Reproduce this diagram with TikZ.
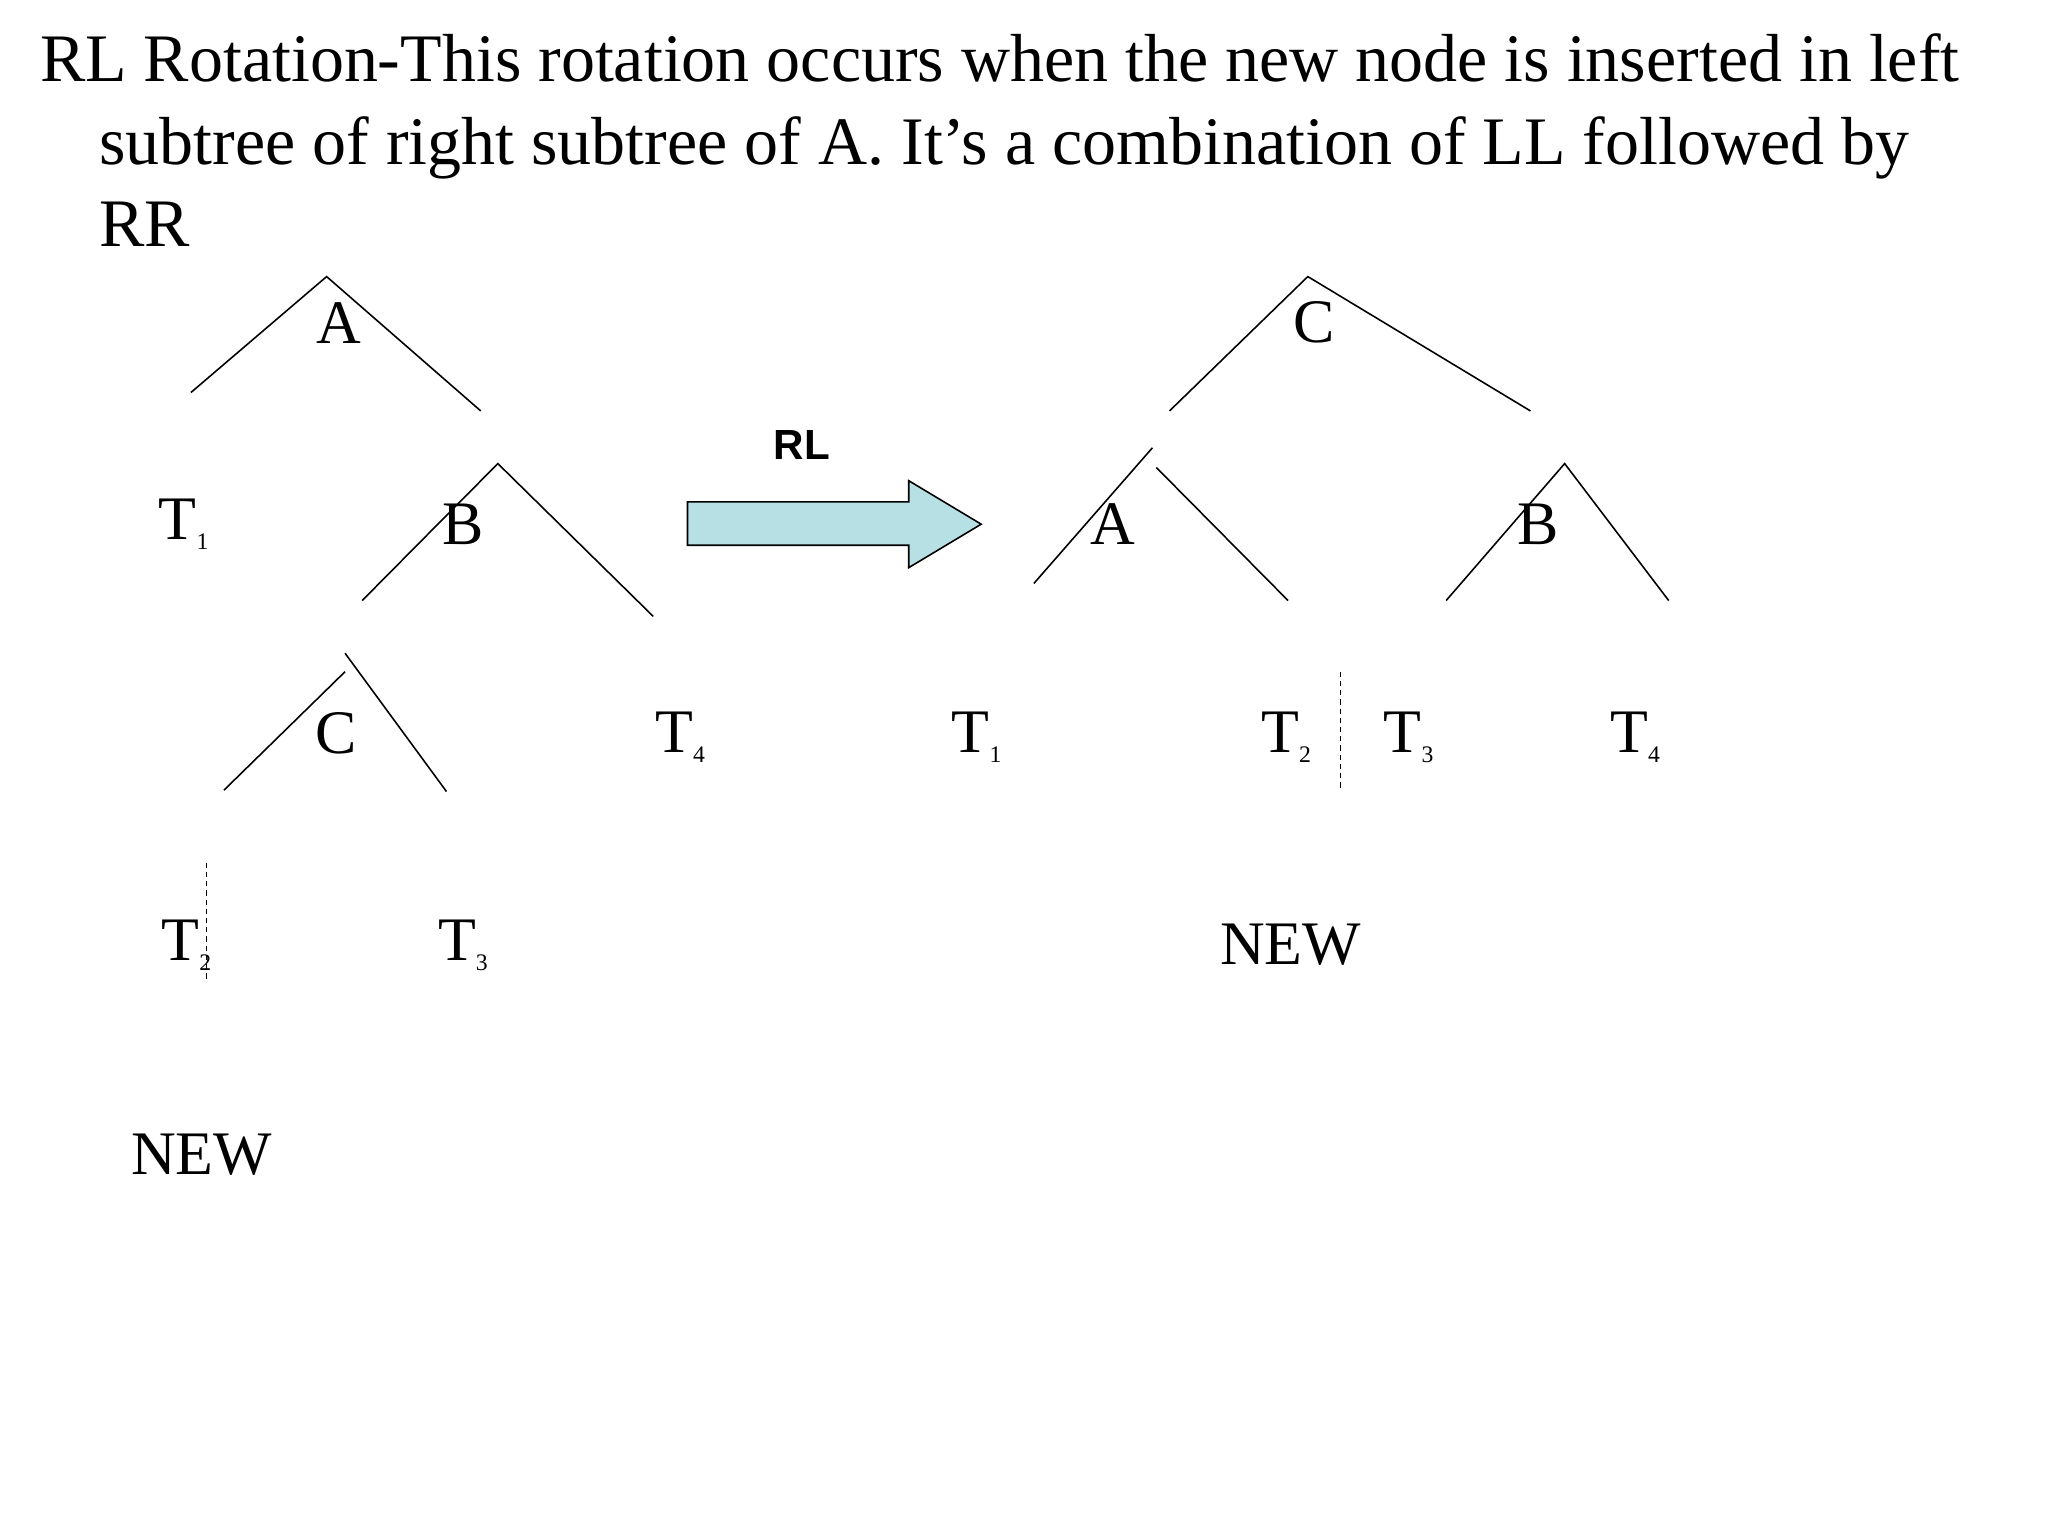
\documentclass[tikz,border=0pt]{standalone}
\usepackage{fontspec}
\setmainfont{Liberation Serif}
\newfontfamily\arial{Liberation Sans}
\begin{document}
\begin{tikzpicture}[x=0.5pt,y=-0.5pt,
  lbl/.style={inner sep=0pt,font=\fontsize{23.5}{26}\selectfont},
  ttl/.style={inner sep=0pt,anchor=base west,font=\fontsize{25.8}{30}\selectfont},
  edge/.style={draw,line width=0.6pt},
  dsh/.style={draw,dashed,line width=0.5pt,dash pattern=on 2pt off 1.5pt}]
\useasboundingbox (0,0) rectangle (1555,1166);
\node[ttl] (t1) at (30,62) {RL Rotation-This rotation occurs when the new node is inserted in left};
\node[ttl] (t2) at (75,125) {subtree of right subtree of A. It’s a combination of LL followed by};
\node[ttl] (t3) at (75,187) {RR};
% left tree
\coordinate (a1) at (248,210); \coordinate (a1l) at (145,298); \coordinate (a1r) at (365,312);
\draw[edge] (a1l) -- (a1) -- (a1r);
\node[lbl] (A1) at (257,245) {A};
\node[lbl] (T11) at (140,398) {T\textsubscript{\fontsize{9}{9}\selectfont 1}};
\coordinate (b1) at (378,352); \coordinate (b1l) at (275,456); \coordinate (b1r) at (496,468);
\draw[edge] (b1l) -- (b1) -- (b1r);
\node[lbl] (B1) at (352,398) {B};
\coordinate (c1) at (262,496); \coordinate (c1a) at (262,510); \coordinate (c1l) at (170,600); \coordinate (c1r) at (339,601);
\draw[edge] (c1l) -- (c1a); \draw[edge] (c1) -- (c1r);
\node[lbl] (C1) at (255,557) {C};
\node[lbl] (T41) at (517,560) {T\textsubscript{\fontsize{9}{9}\selectfont 4}};
\node[lbl] (T21) at (142,718) {T\textsubscript{\fontsize{9}{9}\selectfont 2}};
\coordinate (d1a) at (157,655); \coordinate (d1b) at (157,745);
\draw[dsh] (d1a) -- (d1b);
\node[lbl] (T31) at (352,718) {T\textsubscript{\fontsize{9}{9}\selectfont 3}};
\node[lbl] (N1) at (153,877) {NEW};
% arrow
\draw[fill={rgb,255:red,183;green,224;blue,228},line width=0.6pt]
  (522,381) coordinate (ar1) -- (690,381) -- (690,365) -- (745,398) coordinate (tip) -- (690,431) -- (690,414) -- (522,414) -- cycle;
\node[inner sep=0pt,font=\arial\bfseries\fontsize{16}{18}\selectfont] (RL) at (609,338) {RL};
% right tree
\coordinate (c2) at (993,210); \coordinate (c2l) at (888,312); \coordinate (c2r) at (1162,312);
\draw[edge] (c2l) -- (c2) -- (c2r);
\node[lbl] (C2) at (998,245) {C};
\coordinate (a2) at (875,340); \coordinate (a2l) at (785,443); \coordinate (a2b) at (878,355); \coordinate (a2r) at (978,456);
\draw[edge] (a2l) -- (a2); \draw[edge] (a2b) -- (a2r);
\node[lbl] (A2) at (845,398) {A};
\coordinate (b2) at (1188,352); \coordinate (b2l) at (1098,456); \coordinate (b2r) at (1267,456);
\draw[edge] (b2l) -- (b2) -- (b2r);
\node[lbl] (B2) at (1168,398) {B};
\node[lbl] (T12) at (742,560) {T\textsubscript{\fontsize{9}{9}\selectfont 1}};
\node[lbl] (T22) at (977,560) {T\textsubscript{\fontsize{9}{9}\selectfont 2}};
\coordinate (d2a) at (1018,510); \coordinate (d2b) at (1018,600);
\draw[dsh] (d2a) -- (d2b);
\node[lbl] (T32) at (1070,560) {T\textsubscript{\fontsize{9}{9}\selectfont 3}};
\node[lbl] (T42) at (1242,560) {T\textsubscript{\fontsize{9}{9}\selectfont 4}};
\node[lbl] (N2) at (980,717) {NEW};
\end{tikzpicture}
\end{document}
